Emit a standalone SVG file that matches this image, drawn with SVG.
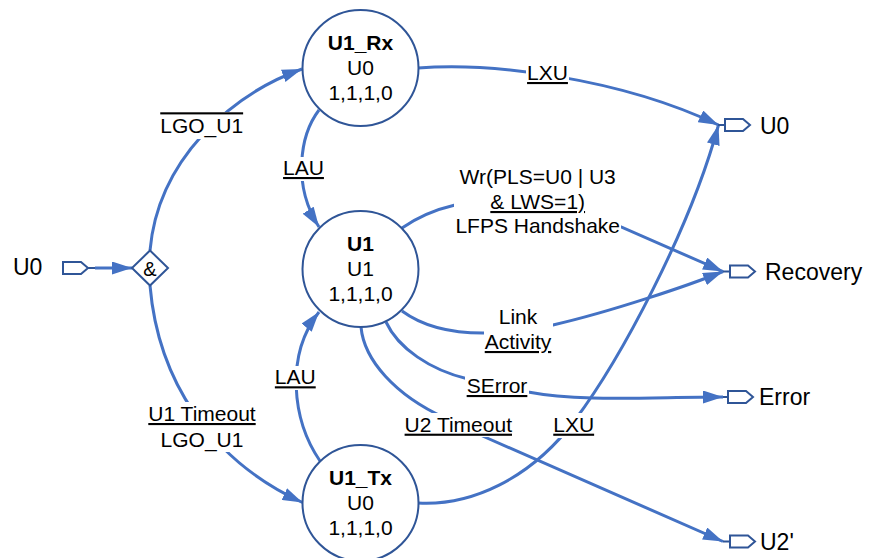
<svg xmlns="http://www.w3.org/2000/svg" width="869" height="558" viewBox="0 0 869 558">
<style>
 .node{fill:#fff;stroke:#2F5597;stroke-width:2}
 .term{fill:#fff;stroke:#2F5597;stroke-width:2}
 .stub{stroke:#2F5597;stroke-width:2;fill:none}
 .conn{fill:none;stroke:#4472C4;stroke-width:3}
 .arr{marker-end:url(#ah)}
 text{font-family:"Liberation Sans",Arial,sans-serif;fill:#000}
 .nt{font-size:21px;text-anchor:middle}
 .b{font-weight:bold}
 .lbl{font-size:21px;text-anchor:middle}
 .u{text-decoration:underline}
 .o{text-decoration:overline}
 .tl{font-size:23px}
 .bg{fill:#fff}
</style>
<defs>
 <marker id="ah" markerUnits="userSpaceOnUse" markerWidth="20" markerHeight="13" refX="20" refY="6.5" orient="auto"><path d="M0,0 L20,6.5 L0,13 Z" fill="#4472C4"/></marker>
</defs>
<g id="connectors">
 <path class="conn arr" d="M95,268 L132,268"/>
 <path class="conn arr" d="M150,250.5 C158,160 230,95 302,69"/>
 <path class="conn arr" d="M150,285.5 C158,380 210,460 302.5,502.5"/>
 <path class="conn arr" d="M319,110 C300,135 292,185 319,227"/>
 <path class="conn arr" d="M320,461 C292,420 285,355 319,312"/>
 <path class="conn arr" d="M418,68 C490,62 620,78 718.5,125"/>
 <path class="conn arr" d="M402,228 Q425,212 455,205 L612,223 L723,271.5"/>
 <path class="conn arr" d="M402,311 C425,328 455,334 490,333 L553,325 C610,312 690,285 723,271.5"/>
 <path class="conn arr" d="M386,322 C398,348 430,370 468,379 L528,392 C580,402 650,397 723,397"/>
 <path class="conn arr" d="M361,327 C364,360 395,395 445,418 L478,434 L723,541.5"/>
 <path class="conn arr" d="M418,503 C470,506 530,480 575,420 C620,360 690,230 718.5,125"/>
 <path class="stub" d="M88,268 L95,268 M718,125 L725,125 M723,271.5 L730,271.5 M723,397 L728,397 M723,541.5 L730,541.5"/>
</g>
<g id="labels">
 <g id="lbl-lgo-top"><rect class="bg" x="159" y="112" width="85" height="27"/><text class="lbl o" x="201.7" y="133.3">LGO_U1</text></g>
 <g id="lbl-lau-top"><rect class="bg" x="282" y="157" width="43" height="24"/><text class="lbl u" x="303.5" y="175">LAU</text></g>
 <g id="lbl-lxu-top"><rect class="bg" x="526" y="62" width="43" height="23"/><text class="lbl u" x="547.5" y="80">LXU</text></g>
 <g id="lbl-wr"><rect class="bg" x="454" y="165" width="167" height="74"/>
  <text class="lbl" x="537.7" y="184">Wr(PLS=U0 | U3</text>
  <text class="lbl u" x="537.7" y="209">&amp; LWS=1)</text>
  <text class="lbl" x="537.7" y="233">LFPS Handshake</text></g>
 <g id="lbl-link"><rect class="bg" x="484" y="306" width="69" height="49"/>
  <text class="lbl" x="518" y="324">Link</text>
  <text class="lbl u" x="518" y="349">Activity</text></g>
 <g id="lbl-serror"><rect class="bg" x="465" y="375" width="64" height="23"/><text class="lbl u" x="497" y="393">SError</text></g>
 <g id="lbl-u2to"><rect class="bg" x="402" y="413" width="113" height="24"/><text class="lbl u" x="458.3" y="431.7">U2 Timeout</text></g>
 <g id="lbl-lxu-bot"><rect class="bg" x="552" y="413" width="44" height="25"/><text class="lbl u" x="573.7" y="431.7">LXU</text></g>
 <g id="lbl-u1to"><rect class="bg" x="146" y="402" width="112" height="50"/>
  <text class="lbl u" x="202" y="421">U1 Timeout</text>
  <text class="lbl" x="202" y="446.7">LGO_U1</text></g>
 <g id="lbl-lau-bot"><rect class="bg" x="274" y="366" width="43" height="24"/><text class="lbl u" x="295.3" y="384.3">LAU</text></g>
</g>
<g id="node-U1_Rx"><circle class="node" cx="360.5" cy="68" r="58"/>
 <text class="nt b" x="360.5" y="50">U1_Rx</text><text class="nt" x="360.5" y="75">U0</text><text class="nt" x="360.5" y="100">1,1,1,0</text></g>
<g id="node-U1"><circle class="node" cx="360.5" cy="269" r="58"/>
 <text class="nt b" x="360.5" y="251">U1</text><text class="nt" x="360.5" y="276">U1</text><text class="nt" x="360.5" y="301">1,1,1,0</text></g>
<g id="node-U1_Tx"><circle class="node" cx="360.5" cy="503" r="58"/>
 <text class="nt b" x="360.5" y="485">U1_Tx</text><text class="nt" x="360.5" y="510">U0</text><text class="nt" x="360.5" y="535">1,1,1,0</text></g>
<g id="node-and"><path class="node" d="M150,250.5 L168,268 L150,285.5 L132,268 Z"/>
 <text x="150" y="275.5" style="font-size:20px;text-anchor:middle">&amp;</text></g>
<g id="term-in-U0"><path class="term" d="M63,262 L81,262 L88,268 L81,274 L63,274 Z"/><text class="tl" x="13" y="275">U0</text></g>
<g id="term-out-U0"><path class="term" d="M725,119 L743,119 L750,125 L743,131 L725,131 Z"/><text class="tl" x="760" y="133.5">U0</text></g>
<g id="term-out-Recovery"><path class="term" d="M730,265.5 L748,265.5 L755,271.5 L748,277.5 L730,277.5 Z"/><text class="tl" x="765" y="280">Recovery</text></g>
<g id="term-out-Error"><path class="term" d="M728,391 L746,391 L753,397 L746,403 L728,403 Z"/><text class="tl" x="759" y="405">Error</text></g>
<g id="term-out-U2p"><path class="term" d="M730,535.5 L748,535.5 L755,541.5 L748,547.5 L730,547.5 Z"/><text class="tl" x="760" y="549.5">U2'</text></g>
</svg>
